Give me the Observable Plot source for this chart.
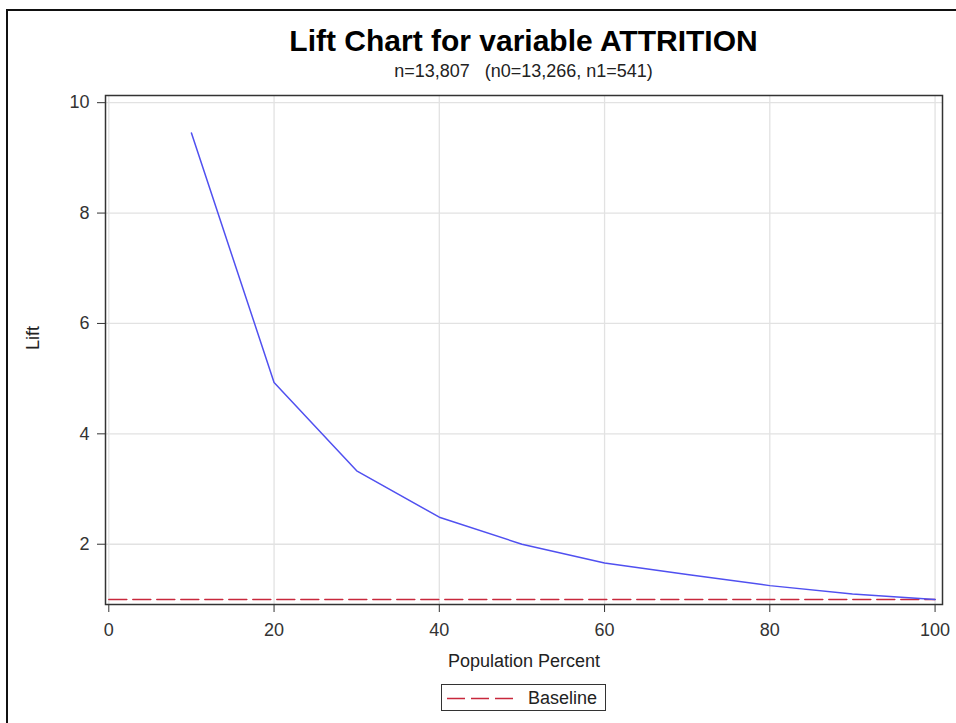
<!DOCTYPE html>
<html>
<head>
<meta charset="utf-8">
<script src="https://cdn.jsdelivr.net/npm/d3@7"></script>
<script src="https://cdn.jsdelivr.net/npm/@observablehq/plot@0.6"></script>
<style>
  html, body { margin: 0; padding: 0; background: #fff; }
  #wrap { position: relative; width: 956px; height: 723px; overflow: hidden; background: #fff;
          font-family: "Liberation Sans", Arial, sans-serif; color: #222; }
  #border { position: absolute; left: 6px; top: 9px; right: -10px; bottom: -10px;
            border-left: 2px solid #111; border-top: 2px solid #111; }
  #title { position: absolute; left: 105px; width: 837px; top: 26px; text-align: center;
           font-size: 30px; font-weight: bold; line-height: 30px; color: #000; }
  #subtitle { position: absolute; left: 105px; width: 837px; top: 62px; text-align: center;
              font-size: 18px; line-height: 18px; color: #222; }
  #chart { position: absolute; left: 0; top: 88px; }
  #legend { position: absolute; left: 441px; top: 684px; width: 163px; height: 25px;
            border: 1px solid #333; background: #fff; }
  #legend svg { position: absolute; left: 5px; top: 12px; }
  #legend span { position: absolute; left: 86px; top: 4px; font-size: 18px; line-height: 18px; color: #222; }
</style>
</head>
<body>
<div id="wrap">
  <div id="border"></div>
  <div id="title">Lift Chart for variable ATTRITION</div>
  <div id="subtitle">n=13,807&nbsp;&nbsp;&nbsp;(n0=13,266, n1=541)</div>
  <div id="chart"></div>
  <div id="legend">
    <svg width="66" height="3"><line x1="0" x2="66" y1="1.5" y2="1.5" stroke="#c8283c" stroke-width="1.5" stroke-dasharray="18,6"/></svg>
    <span>Baseline</span>
  </div>
</div>
<script>
const pct = [10, 20, 30, 40, 50, 60, 70, 80, 90, 100];
const lift = [9.45, 4.93, 3.33, 2.49, 2.00, 1.66, 1.45, 1.25, 1.10, 1.00];
const baselinePct = [0, 100];
const baselineLift = [1, 1];
const xTicks = [0, 20, 40, 60, 80, 100];
const yTicks = [2, 4, 6, 8, 10];
const xLabel = "Population Percent";
const yLabel = "Lift";

const liftData = pct.map((p, i) => ({pct: p, lift: lift[i]}));
const baseData = baselinePct.map((p, i) => ({pct: p, lift: baselineLift[i]}));

const chart = Plot.plot({
  width: 956,
  height: 588,
  marginLeft: 105,
  marginRight: 14,
  marginTop: 7,
  marginBottom: 72,
  style: {fontFamily: '"Liberation Sans", Arial, sans-serif', fontSize: "18px", color: "#333", background: "transparent", overflow: "visible"},
  x: {domain: [-0.4, 100.9], ticks: xTicks, tickSize: 8, tickPadding: 11, label: null},
  y: {domain: [0.908, 10.13], ticks: yTicks, tickSize: 8, tickPadding: 8, label: null},
  marks: [
    Plot.ruleX(xTicks, {stroke: "#e2e2e2", strokeWidth: 1.3}),
    Plot.ruleY(yTicks, {stroke: "#e2e2e2", strokeWidth: 1.3}),
    Plot.line(baseData, {x: "pct", y: "lift", stroke: "#c8283c", strokeWidth: 1.5, strokeDasharray: "18,6"}),
    Plot.line(liftData, {x: "pct", y: "lift", stroke: "#5050f0", strokeWidth: 1.5}),
    Plot.frame({stroke: "#333", strokeWidth: 1.5}),
    Plot.text([xLabel], {text: d => d, frameAnchor: "bottom", dy: 62, fontSize: 18, fill: "#222"}),
    Plot.text([yLabel], {text: d => d, frameAnchor: "left", dx: -72, rotate: -90, fontSize: 18, fill: "#222"})
  ]
});
document.getElementById("chart").appendChild(chart);
</script>
</body>
</html>
